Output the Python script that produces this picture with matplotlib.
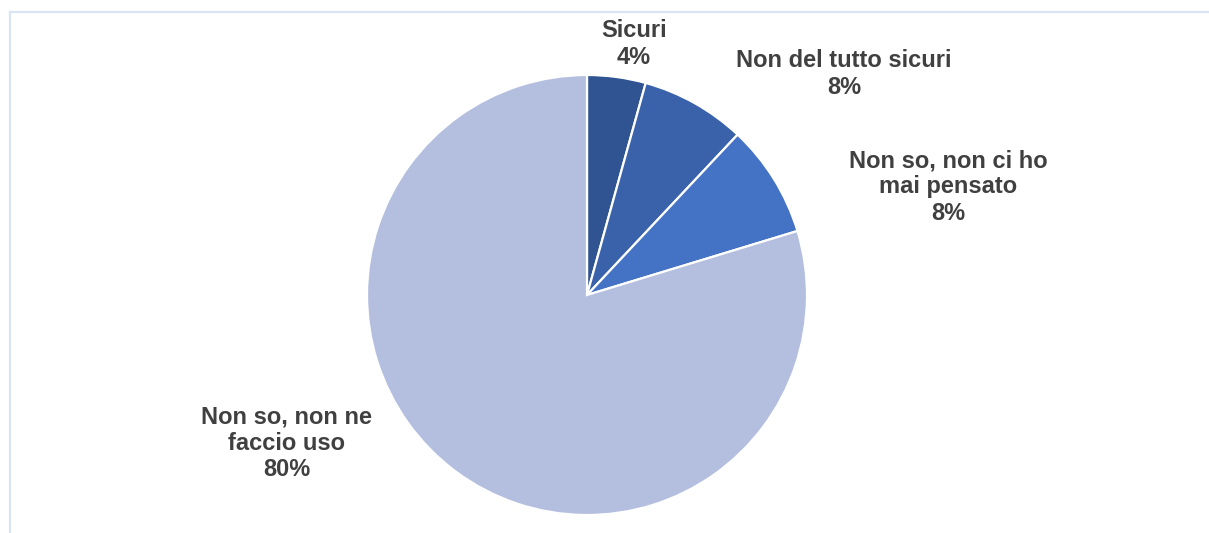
import matplotlib
matplotlib.use("Agg")
import matplotlib.pyplot as plt
from matplotlib.lines import Line2D

# Risposte e quote (%)
categories = ["Sicuri", "Non del tutto sicuri", "Non so, non ci ho\nmai pensato", "Non so, non ne\nfaccio uso"]
shares = [4.3, 7.7, 8.3, 79.7]
colors = ["#2F5491", "#3A62AA", "#4472C4", "#B4BFDF"]

# label centres, in pie-radius units from the centre
label_pos = [(0.214, 1.141), (1.168, 1.005), (1.641, 0.491), (-1.364, -0.673)]

W, H, DPI = 1209, 533, 100
CX, CY, R = 587, 295, 220

fig = plt.figure(figsize=(W / DPI, H / DPI), dpi=DPI, facecolor="white")
ax = fig.add_axes([0, 0, 1, 1])

ax.pie(shares, colors=colors, startangle=90, counterclock=False,
       wedgeprops=dict(edgecolor="white", linewidth=1.6))
ax.set_aspect("auto")
ax.set_xlim(-CX / R, (W - CX) / R)
ax.set_ylim((CY - H) / R, CY / R)
ax.axis("off")

for name, val, (x, y) in zip(categories, shares, label_pos):
    ax.text(x, y, f"{name}\n{val:.0f}%", ha="center", va="center",
            fontsize=17, fontweight="bold", color="#404040",
            family="Liberation Sans", linespacing=1.18)

# chart area frame (top and left edges)
frame = "#D9E4F5"
fig.add_artist(Line2D([10 / W, 1], [1 - 12 / H, 1 - 12 / H], color=frame, lw=1.6, transform=fig.transFigure))
fig.add_artist(Line2D([10 / W, 10 / W], [0, 1 - 12 / H], color=frame, lw=1.6, transform=fig.transFigure))

fig.savefig("out.png", dpi=DPI, facecolor="white")
